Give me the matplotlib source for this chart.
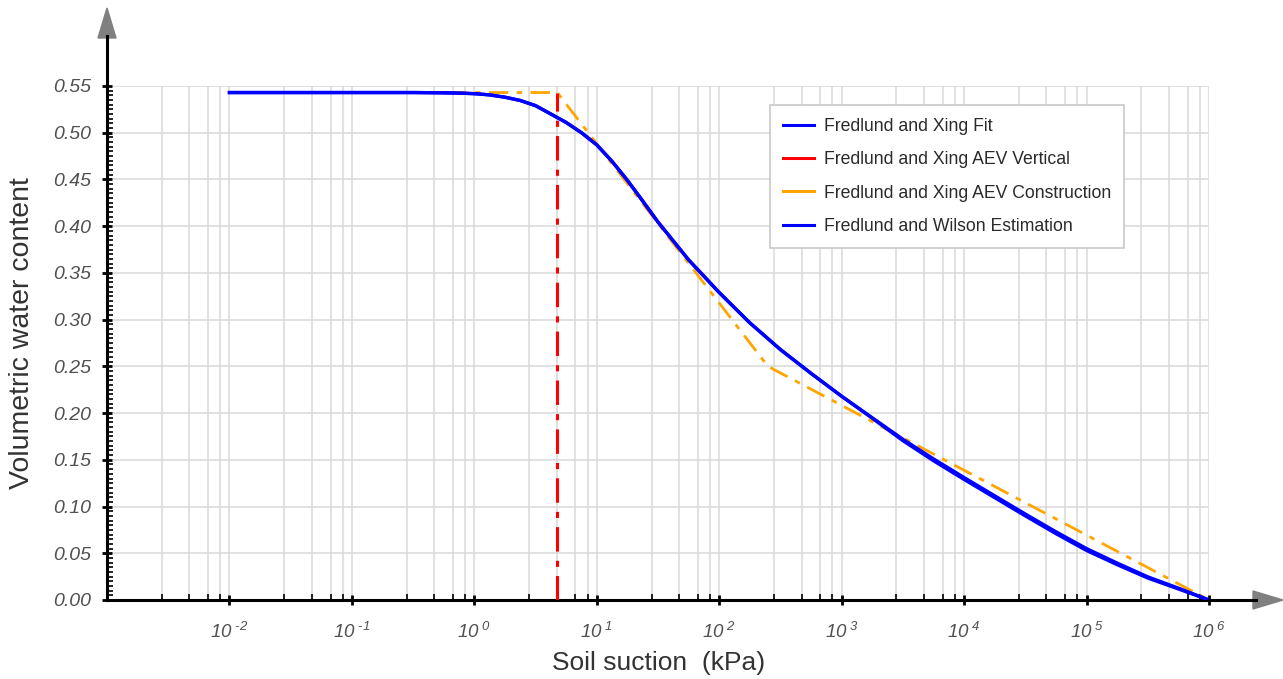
import matplotlib
matplotlib.use("Agg")
import matplotlib.pyplot as plt
from matplotlib.lines import Line2D
from matplotlib.patches import Polygon
from matplotlib.ticker import FixedLocator, NullFormatter, MultipleLocator

plt.rcParams['font.family'] = ['Liberation Sans', 'DejaVu Sans']
plt.rcParams['mathtext.fontset'] = 'custom'
plt.rcParams['mathtext.rm'] = 'Liberation Sans:italic'
plt.rcParams['mathtext.it'] = 'Liberation Sans:italic'

# Fredlund and Xing fit
fit_suction = [0.01, 0.1, 0.316, 0.562, 0.75, 1.0, 1.33, 1.78, 2.37, 3.16, 4.22, 5.62,
               7.5, 10, 13.3, 17.8, 23.7, 31.6, 56.2, 100, 178, 316, 562, 1000,
               1778, 3162, 5623, 10000, 17783, 31623, 56234, 100000, 177828,
               316228, 562341, 1e6]
fit_theta = [0.543, 0.543, 0.543, 0.5427, 0.5424, 0.5418, 0.5405, 0.538, 0.5345, 0.529,
             0.520, 0.511, 0.500, 0.487, 0.4695, 0.449, 0.427, 0.4045, 0.364, 0.329,
             0.2965, 0.268, 0.2425, 0.218, 0.195, 0.172, 0.151, 0.131, 0.1115, 0.092,
             0.073, 0.055, 0.0395, 0.0248, 0.0127, 0.0]

# Fredlund and Wilson estimation
wil_suction = [0.01, 0.1, 0.316, 0.562, 0.75, 1.0, 1.33, 1.78, 2.37, 3.16, 4.22, 5.62,
               7.5, 10, 13.3, 17.8, 23.7, 31.6, 56.2, 100, 178, 316, 562, 1000,
               1778, 3162, 5623, 10000, 17783, 31623, 56234, 100000, 177828,
               316228, 562341, 1e6]
wil_theta = [0.543, 0.543, 0.543, 0.5427, 0.5424, 0.5418, 0.5405, 0.538, 0.5345, 0.529,
             0.520, 0.511, 0.500, 0.487, 0.4695, 0.449, 0.427, 0.4045, 0.364, 0.329,
             0.2965, 0.268, 0.2425, 0.218, 0.1945, 0.1705, 0.149, 0.129, 0.1095, 0.090,
             0.071, 0.053, 0.0378, 0.0235, 0.0118, 0.0]

# AEV construction and vertical
aev_suction = [0.6, 4.76, 250, 1e6]
aev_theta = [0.543, 0.543, 0.25, 0.0]
aev_x = [4.76, 4.76]
aev_y = [0.0, 0.543]

xtick_pos = [1e-2, 1e-1, 1e0, 1e1, 1e2, 1e3, 1e4, 1e5, 1e6]
xtick_lab = [r'$10^{\ \text{-}2}$', r'$10^{\ \text{-}1}$', r'$10^{\ 0}$', r'$10^{\ 1}$',
             r'$10^{\ 2}$', r'$10^{\ 3}$', r'$10^{\ 4}$', r'$10^{\ 5}$', r'$10^{\ 6}$']
minor_factors = [2.8, 4.7, 6.7, 8.4]

W, H = 1283, 679
fig = plt.figure(figsize=(W / 100, H / 100), dpi=100)
ax = fig.add_axes([107 / W, 1 - 600 / H, (1209 - 107) / W, (600 - 86) / H])

ax.plot(aev_suction, aev_theta, color='orange', lw=2, dashes=(7, 3, 2, 3), zorder=3)
ax.plot(aev_x, aev_y, color='red', lw=2.2, dashes=(8, 3, 2, 3), zorder=3)
ax.plot(wil_suction, wil_theta, color='blue', lw=2.4, zorder=4, solid_joinstyle='round')
ax.plot(fit_suction, fit_theta, color='blue', lw=2.4, zorder=5, solid_joinstyle='round')

ax.set_xscale('log')
ax.set_xlim(1e-3, 1e6)
ax.set_ylim(0, 0.55)

ax.xaxis.set_major_locator(FixedLocator(xtick_pos))
ax.set_xticklabels(xtick_lab)
minors = [f * 10.0 ** d for d in range(-3, 6) for f in minor_factors]
ax.xaxis.set_minor_locator(FixedLocator(minors))
ax.xaxis.set_minor_formatter(NullFormatter())
ax.yaxis.set_major_locator(MultipleLocator(0.05))
ax.yaxis.set_minor_locator(MultipleLocator(0.005))
ax.yaxis.set_major_formatter(lambda v, p: '%.2f' % v)

ax.grid(True, which='major', color='#d9d9d9', lw=1.1)
ax.grid(True, which='minor', axis='x', color='#d9d9d9', lw=1.1)
ax.set_axisbelow(True)

for s in ['top', 'right']:
    ax.spines[s].set_visible(False)
for s in ['left', 'bottom']:
    ax.spines[s].set_linewidth(2.2)
    ax.spines[s].set_color('black')

ax.tick_params(which='major', direction='inout', length=7, width=2, color='black',
               labelcolor='#505050')
ax.tick_params(which='minor', direction='in', length=4, width=1.2, color='black')
ax.tick_params(axis='x', which='major', pad=12, labelsize=13.5)
ax.tick_params(axis='y', which='major', pad=8, labelsize=14)
for t in ax.get_yticklabels():
    t.set_fontstyle('italic')

# axis extensions with arrow heads
fig.add_artist(Line2D([107 / W, 107 / W], [1 - 86 / H, 1 - 36 / H],
                      transform=fig.transFigure, color='black', lw=2.2))
fig.add_artist(Line2D([1209 / W, 1256 / W], [1 - 600 / H, 1 - 600 / H],
                      transform=fig.transFigure, color='black', lw=2.2))
fig.add_artist(Polygon([[107 / W, 1 - 8 / H], [98 / W, 1 - 38 / H], [116 / W, 1 - 38 / H]],
                       closed=True, transform=fig.transFigure, color='#808080'))
fig.add_artist(Polygon([[1283 / W, 1 - 600 / H], [1253 / W, 1 - 591 / H], [1253 / W, 1 - 609 / H]],
                       closed=True, transform=fig.transFigure, color='#808080'))

fig.text(659 / W, 1 - 663 / H, 'Soil suction  (kPa)', ha='center', va='center',
         fontsize=19, color='#333333')
fig.text(22 / W, 1 - 333 / H, 'Volumetric water content', ha='center', va='center',
         rotation=90, fontsize=20.5, color='#333333')

handles = [Line2D([], [], color='blue', lw=2.2),
           Line2D([], [], color='red', lw=2.2),
           Line2D([], [], color='orange', lw=2.2),
           Line2D([], [], color='blue', lw=2.2)]
labels = ['Fredlund and Xing Fit', 'Fredlund and Xing AEV Vertical',
          'Fredlund and Xing AEV Construction', 'Fredlund and Wilson Estimation']
leg = fig.legend(handles, labels, loc='upper left', bbox_to_anchor=(770 / W, 1 - 105 / H),
                 bbox_transform=fig.transFigure, borderaxespad=0, fontsize=12.7,
                 handlelength=1.75, handletextpad=0.6, labelspacing=0.93,
                 borderpad=0.72, fancybox=False, framealpha=1, labelcolor='#2a2a2a')
leg.get_frame().set_edgecolor('#c8c8c8')
leg.get_frame().set_linewidth(1.2)

fig.savefig('out.png', dpi=100)
